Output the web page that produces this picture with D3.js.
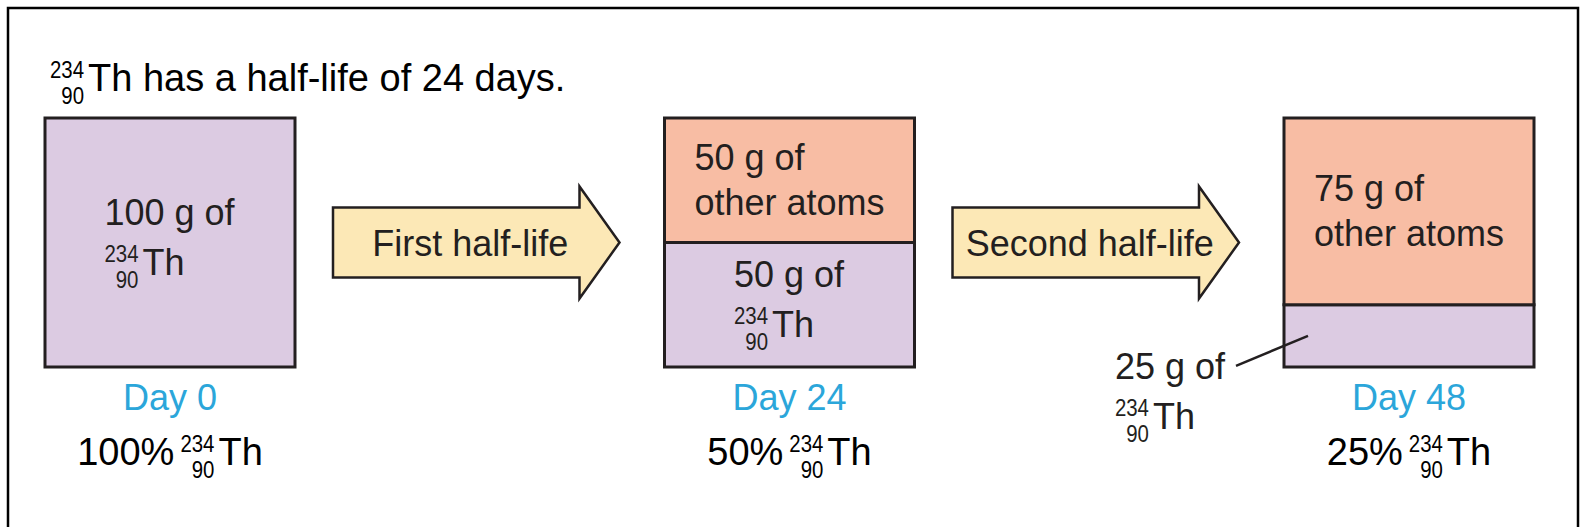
<!DOCTYPE html>
<html>
<head>
<meta charset="utf-8">
<script src="https://cdn.jsdelivr.net/npm/d3@7"></script>
<style>
  html, body { margin: 0; padding: 0; background: #fff; }
  svg { display: block; font-family: "Liberation Sans", Arial, Helvetica, sans-serif; }
</style>
</head>
<body>
<div id="chart"></div>
<script>
// half-life diagram for thorium-234

const days = [0, 24, 48];
const thoriumMass = [100, 50, 25];   // g of Th-234 left
const otherMass = [0, 50, 75];       // g of decay products
const dayLabels = ['Day 0', 'Day 24', 'Day 48'];
const percentLabels = ['100%', '50%', '25%'];
const arrowLabels = ['First half-life', 'Second half-life'];
const massNumber = '234';
const atomicNumber = '90';
const symbol = 'Th';
const halfLife = 24;

const width = 1580;
const height = 527;
const boxW = 250;
const fontSize = 36;
const isoSize = 24;
const colors = { th: '#dccbe2', other: '#f8bda4', arrow: '#fce8b6', day: '#2ba6da', ink: '#231f20' };

const svg = d3.select('#chart').append('svg')
  .attr('width', width)
  .attr('height', height);

// outer frame (runs off the bottom)
svg.append('rect')
  .attr('x', 8).attr('y', 8)
  .attr('width', 1570).attr('height', height)
  .attr('fill', 'none')
  .attr('stroke', '#000')
  .attr('stroke-width', 2.5);

const x = d3.scaleLinear().domain([0, 48]).range([170, 1409]);
const y = d3.scaleLinear().domain([0, 100]).range([367, 118]);

// writes "prefix  A/Z Th suffix" at baseline 0, returns the group
function nuclideLine(parent, prefix, suffix, size) {
  size = size || fontSize;
  const g = parent.append('g');
  let cx = 0;
  if (prefix) {
    const t = g.append('text').attr('font-size', size).text(prefix);
    cx = t.node().getComputedTextLength() + 6;
  }
  const iso = [[massNumber, -13], [atomicNumber, 13]].map(([s, dy]) => {
    const t = g.append('text').attr('font-size', isoSize).attr('text-anchor', 'end')
      .attr('y', dy).text(s);
    // the figure's digits are a touch condensed
    const len = t.node().getComputedTextLength() * 0.85;
    t.attr('textLength', len).attr('lengthAdjust', 'spacingAndGlyphs');
    return { t, len };
  });
  const w = d3.max(iso, d => d.len);
  iso.forEach(d => d.t.attr('x', cx + w));
  g.append('text').attr('font-size', size).attr('x', cx + w + 4)
    .text(symbol + (suffix || ''));
  return g;
}

// two line label: "N g of" + either "other atoms" or the nuclide
function massLabel(parent, mass, kind) {
  const g = parent.append('g').attr('fill', colors.ink);
  g.append('text').attr('font-size', fontSize).text(`${mass} g of`);
  if (kind === 'other') {
    g.append('text').attr('font-size', fontSize).attr('y', 45).text('other atoms');
  } else {
    nuclideLine(g, '', '').attr('transform', 'translate(0,50)');
  }
  return g;
}

function placeCentered(g, cx, cy) {
  const b = g.node().getBBox();
  g.attr('transform', `translate(${cx - b.x - b.width / 2},${cy - b.y - b.height / 2})`);
}

// title
const title = nuclideLine(svg, '', ` has a half-life of ${halfLife} days.`, 38);
title.attr('transform', `translate(50,91)`);

// stacked boxes
const stages = days.map((d, i) => ({
  day: d, th: thoriumMass[i], other: otherMass[i],
  dayLabel: dayLabels[i], pct: percentLabels[i]
}));

const stage = svg.selectAll('.stage')
  .data(stages)
  .join('g')
  .attr('class', 'stage');

stage.append('rect')
  .attr('x', d => x(d.day) - boxW / 2)
  .attr('y', d => y(d.th))
  .attr('width', boxW)
  .attr('height', d => y(0) - y(d.th))
  .attr('fill', colors.th)
  .attr('stroke', colors.ink)
  .attr('stroke-width', 3);

stage.filter(d => d.other > 0).append('rect')
  .attr('x', d => x(d.day) - boxW / 2)
  .attr('y', d => y(d.th + d.other))
  .attr('width', boxW)
  .attr('height', d => y(d.th) - y(d.th + d.other))
  .attr('fill', colors.other)
  .attr('stroke', colors.ink)
  .attr('stroke-width', 3);

stage.each(function (d) {
  const s = d3.select(this);
  const cx = x(d.day);
  const left = cx - boxW / 2;

  if (d.other > 0) {
    placeCentered(massLabel(s, d.other, 'other'), cx, (y(d.th + d.other) + y(d.th)) / 2);
  }
  const segH = y(0) - y(d.th);
  const segMid = (y(0) + y(d.th)) / 2;
  if (segH > 90) {
    placeCentered(massLabel(s, d.th, 'th'), cx, segMid);
  } else {
    // too small: label outside with a leader line
    const lab = massLabel(s, d.th, 'th');
    const b = lab.node().getBBox();
    const right = left - 58;
    const base = segMid + 43;
    lab.attr('transform', `translate(${right - b.width},${base})`);
    s.append('line')
      .attr('x1', right + 10).attr('y1', base - 13)
      .attr('x2', left + 24).attr('y2', segMid)
      .attr('stroke', colors.ink)
      .attr('stroke-width', 2.5);
  }

  s.append('text')
    .attr('x', cx).attr('y', y(0) + 43)
    .attr('text-anchor', 'middle')
    .attr('font-size', fontSize)
    .attr('fill', colors.day)
    .text(d.dayLabel);

  const pl = nuclideLine(s, d.pct, '', 38);
  const pb = pl.node().getBBox();
  pl.attr('transform', `translate(${cx - pb.width / 2},${y(0) + 98})`);
});

// arrows between boxes
const arrows = arrowLabels.map((label, i) => ({
  label,
  x0: x(days[i]) + boxW / 2 + 38,
  x1: x(days[i + 1]) - boxW / 2 - 45
}));

const midY = y(50);
const bodyH = 35, headH = 56, headL = 40;

const arrow = svg.selectAll('.arrow')
  .data(arrows)
  .join('g')
  .attr('class', 'arrow');

arrow.append('path')
  .attr('d', d => {
    const p = d3.path();
    p.moveTo(d.x0, midY - bodyH);
    p.lineTo(d.x1 - headL, midY - bodyH);
    p.lineTo(d.x1 - headL, midY - headH);
    p.lineTo(d.x1, midY);
    p.lineTo(d.x1 - headL, midY + headH);
    p.lineTo(d.x1 - headL, midY + bodyH);
    p.lineTo(d.x0, midY + bodyH);
    p.closePath();
    return p.toString();
  })
  .attr('fill', colors.arrow)
  .attr('stroke', colors.ink)
  .attr('stroke-width', 2.5)
  .attr('stroke-linejoin', 'miter');

arrow.append('text')
  .attr('x', d => (d.x0 + d.x1) / 2 - 6)
  .attr('y', midY + 13)
  .attr('text-anchor', 'middle')
  .attr('font-size', fontSize)
  .attr('fill', colors.ink)
  .text(d => d.label);
</script>
</body>
</html>
